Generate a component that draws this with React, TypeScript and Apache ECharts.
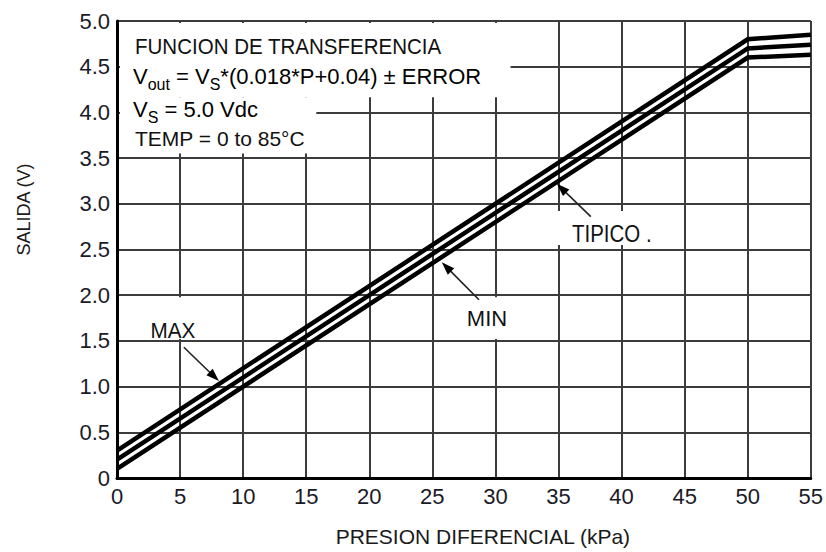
import React, { useEffect, useRef } from "react";
import * as echarts from "echarts";

// ---- data ----
const PRESSURE_KPA = [0, 50, 55];
const SALIDA_MAX = [0.3, 4.8, 4.85];
const SALIDA_TIPICO = [0.2, 4.7, 4.74];
const SALIDA_MIN = [0.1, 4.6, 4.63];

const X_MIN = 0;
const X_MAX = 55;
const X_STEP = 5;
const Y_MIN = 0;
const Y_MAX = 5;
const Y_STEP = 0.5;

const X_NAME = "PRESION DIFERENCIAL (kPa)";
const Y_NAME = "SALIDA (V)";

// arrows: [tail, tip] in data coordinates (kPa, V)
const ARROW_MAX = [[5.3, 1.43], [8.08, 1.06]];
const ARROW_MIN = [[28.7, 1.95], [25.75, 2.36]];
const ARROW_TIPICO = [[37.56, 2.86], [34.87, 3.22]];

const FONT = "'Liberation Sans', Arial, Helvetica, sans-serif";

function toSeries(vals: number[]) {
  return PRESSURE_KPA.map((p, i) => [p, vals[i]]);
}

export default function App() {
  const ref = useRef<HTMLDivElement>(null);

  useEffect(() => {
    if (!ref.current) return;
    const chart = echarts.init(ref.current, null, { renderer: "svg" });

    const lineStyle = { color: "#000", width: 4.5, cap: "butt", join: "miter" };
    const mkSeries = (name: string, vals: number[]) => ({
      name,
      type: "line",
      data: toSeries(vals),
      symbol: "none",
      lineStyle,
      z: 3,
      silent: true,
    });

    chart.setOption({
      animation: false,
      backgroundColor: "#fff",
      grid: { left: 117, right: 15, top: 21, bottom: 70, containLabel: false },
      xAxis: {
        type: "value",
        min: X_MIN,
        max: X_MAX,
        interval: X_STEP,
        name: X_NAME,
        nameLocation: "middle",
        nameGap: 48,
        nameTextStyle: {
          fontFamily: FONT,
          fontSize: 21,
          color: "#1a1a1a",
          padding: [0, 0, 0, 38],
        },
        axisLine: { show: true, lineStyle: { color: "#000", width: 3 } },
        axisTick: { show: false },
        axisLabel: {
          fontFamily: FONT,
          fontSize: 22,
          color: "#1a1a28",
          margin: 7,
        },
        splitLine: { show: true, lineStyle: { color: "#3c3c3c", width: 2 } },
      },
      yAxis: {
        type: "value",
        min: Y_MIN,
        max: Y_MAX,
        interval: Y_STEP,
        name: Y_NAME,
        nameLocation: "middle",
        nameRotate: 90,
        nameGap: 84,
        nameTextStyle: {
          fontFamily: FONT,
          fontSize: 18,
          color: "#1a1a1a",
          padding: [0, 0, 0, 80],
        },
        axisLine: { show: true, lineStyle: { color: "#000", width: 3 } },
        axisTick: { show: false },
        axisLabel: {
          fontFamily: FONT,
          fontSize: 22,
          color: "#1a1a28",
          margin: 7,
          formatter: (v: number) => (v === 0 ? "0" : v.toFixed(1)),
        },
        splitLine: { show: true, lineStyle: { color: "#3c3c3c", width: 2 } },
      },
      series: [
        mkSeries("MAX", SALIDA_MAX),
        mkSeries("TIPICO", SALIDA_TIPICO),
        mkSeries("MIN", SALIDA_MIN),
      ],
    });

    const px = (p: number, v: number) =>
      chart.convertToPixel({ gridIndex: 0 }, [p, v]) as number[];

    const maskRect = (p0: number, v0: number, p1: number, v1: number, dx0 = 0, dy0 = 0, dx1 = 0, dy1 = 0) => {
      const a = px(p0, v0);
      const b = px(p1, v1);
      const x0 = Math.min(a[0], b[0]) + dx0;
      const x1 = Math.max(a[0], b[0]) + dx1;
      const y0 = Math.min(a[1], b[1]) + dy0;
      const y1 = Math.max(a[1], b[1]) + dy1;
      return {
        type: "rect",
        z: 1,
        silent: true,
        shape: { x: x0, y: y0, width: x1 - x0, height: y1 - y0 },
        style: { fill: "#fff" },
      };
    };

    const arrow = (pts: number[][]) => {
      const t = px(pts[0][0], pts[0][1]);
      const h = px(pts[1][0], pts[1][1]);
      const dx = h[0] - t[0];
      const dy = h[1] - t[1];
      const len = Math.sqrt(dx * dx + dy * dy);
      const ux = dx / len;
      const uy = dy / len;
      const headLen = 13;
      const headW = 4.5;
      const bx = h[0] - ux * headLen;
      const by = h[1] - uy * headLen;
      return [
        {
          type: "line",
          z: 6,
          silent: true,
          shape: { x1: t[0], y1: t[1], x2: bx + ux * 2, y2: by + uy * 2 },
          style: { stroke: "#222", lineWidth: 1.6 },
        },
        {
          type: "polygon",
          z: 6,
          silent: true,
          shape: {
            points: [
              [h[0], h[1]],
              [bx - uy * headW, by + ux * headW],
              [bx + uy * headW, by - ux * headW],
            ],
          },
          style: { fill: "#000" },
        },
      ];
    };

    const txt = (x: number, y: number, text: string, fontSize: number, scaleX = 1, align = "left", extra: any = {}) => ({
      type: "text",
      z: 7,
      silent: true,
      x,
      y,
      scaleX,
      style: {
        x: 0,
        y: 0,
        text,
        font: `${fontSize}px ${FONT}`,
        fill: "#111",
        align,
        verticalAlign: "middle",
        ...extra,
      },
    });

    const richSub = {
      a: { fontSize: 22, fontFamily: FONT, color: "#111", lineHeight: 32 },
      s: { fontSize: 16, fontFamily: FONT, color: "#111", lineHeight: 16, verticalAlign: "bottom" },
    };

    const graphic: any[] = [
      // white masks behind annotation texts (grid interrupted there)
      maskRect(0, Y_MAX, 31.2, 4.165, 3, 2, 0, 0),
      maskRect(0, 4.165, 15.8, 3.55, 3, 0, 0, 0),
      maskRect(2.6, 2.0, 6.4, 1.5, 0, 2, 0, -2),
      maskRect(27.6, 2.0, 31.3, 1.5, 0, 2, 0, -2),
      maskRect(34.5, 2.92, 43.0, 2.55, 0, 0, 0, 0),
      // title block
      txt(135, 47, "FUNCION DE TRANSFERENCIA", 22, 0.933),
      {
        type: "text",
        z: 7,
        silent: true,
        x: 133,
        y: 76,
        style: {
          x: 0,
          y: 0,
          text: "{a|V}{s|out}{a| = V}{s|S}{a|*(0.018*P+0.04) ± ERROR}",
          rich: richSub,
          verticalAlign: "middle",
          align: "left",
        },
      },
      {
        type: "text",
        z: 7,
        silent: true,
        x: 133,
        y: 109,
        style: {
          x: 0,
          y: 0,
          text: "{a|V}{s|S}{a| = 5.0 Vdc}",
          rich: richSub,
          verticalAlign: "middle",
          align: "left",
        },
      },
      txt(135, 138, "TEMP = 0 to 85°C", 21),
      // curve labels
      txt(173, 331, "MAX", 22, 0.94, "center"),
      txt(487, 318, "MIN", 22, 1, "center"),
      txt(572, 234, "TIPICO .", 23, 0.89),
      ...arrow(ARROW_MAX),
      ...arrow(ARROW_MIN),
      ...arrow(ARROW_TIPICO),
    ];

    chart.setOption({ graphic });

    return () => chart.dispose();
  }, []);

  return (
    <div
      ref={ref}
      style={{ position: "fixed", left: 0, top: 0, width: 826, height: 552, background: "#fff" }}
    />
  );
}
